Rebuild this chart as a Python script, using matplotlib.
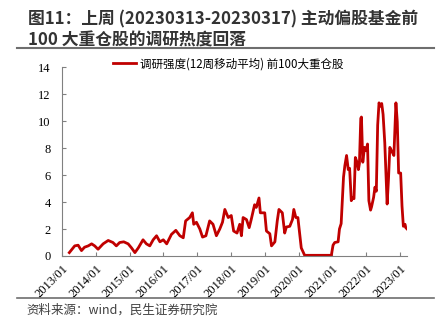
import matplotlib
matplotlib.use("Agg")
import matplotlib.pyplot as plt
from matplotlib.lines import Line2D

plt.rcParams['font.family'] = ['Noto Sans CJK SC', 'DejaVu Sans']

# weekly survey intensity (12-week moving average)
years = [2013.22, 2013.30, 2013.38, 2013.48, 2013.58, 2013.67, 2013.78, 2013.88, 2013.97,
         2014.07, 2014.22, 2014.37, 2014.51, 2014.61, 2014.71, 2014.83, 2014.96,
         2015.06, 2015.16, 2015.26, 2015.40, 2015.50, 2015.60, 2015.70, 2015.80, 2015.90,
         2016.00, 2016.10, 2016.24, 2016.37, 2016.49, 2016.59, 2016.66, 2016.78, 2016.86,
         2016.90, 2016.98, 2017.08, 2017.16, 2017.26, 2017.37, 2017.47, 2017.57, 2017.67,
         2017.75, 2017.82, 2017.92, 2018.01, 2018.08, 2018.18, 2018.26, 2018.31, 2018.36,
         2018.46, 2018.54, 2018.60, 2018.70, 2018.75, 2018.83, 2018.87, 2019.00, 2019.05,
         2019.15, 2019.20, 2019.30, 2019.37, 2019.42, 2019.52, 2019.59, 2019.64, 2019.74,
         2019.82, 2019.86, 2019.92, 2019.98, 2020.08, 2020.18, 2020.97, 2021.02, 2021.07,
         2021.17, 2021.21, 2021.26, 2021.33, 2021.37, 2021.42, 2021.47, 2021.51, 2021.56,
         2021.61, 2021.64, 2021.68, 2021.73, 2021.77, 2021.80, 2021.84, 2021.86, 2021.90,
         2021.95, 2022.00, 2022.04, 2022.08, 2022.13, 2022.16, 2022.22, 2022.26, 2022.30,
         2022.34, 2022.38, 2022.42, 2022.46, 2022.50, 2022.55, 2022.62, 2022.66, 2022.70,
         2022.77, 2022.82, 2022.88, 2022.92, 2022.96, 2023.02, 2023.06, 2023.10, 2023.15,
         2023.17, 2023.21]
values = [0.25, 0.5, 0.75, 0.8, 0.4, 0.65, 0.75, 0.9, 0.75,
          0.5, 0.9, 1.15, 1.0, 0.75, 1.0, 1.05, 0.9,
          0.6, 0.25, 0.6, 1.2, 0.9, 0.75, 1.2, 1.5, 1.05,
          1.2, 0.9, 1.6, 1.9, 1.5, 1.35, 2.6, 2.85, 3.2,
          2.35, 2.5, 2.0, 1.4, 1.5, 2.6, 2.35, 1.5, 2.0,
          2.5, 3.45, 2.85, 3.0, 1.85, 1.7, 2.35, 1.5, 2.85,
          2.7, 2.1, 2.7, 3.8, 3.6, 4.3, 3.2, 3.2, 1.85,
          1.65, 0.75, 1.05, 2.6, 3.45, 3.2, 1.7, 2.15, 2.2,
          2.7, 3.45, 2.85, 2.85, 0.6, 0.05, 0.05, 0.8, 1.0,
          1.05, 2.0, 2.4, 5.85, 6.7, 7.45, 6.4, 6.5, 4.1,
          4.35, 4.25, 7.3, 6.95, 6.4, 6.85, 10.2, 10.3, 6.95,
          8.05, 7.8, 8.3, 4.1, 3.4, 3.65, 4.35, 5.1, 4.8,
          9.7, 11.35, 11.1, 11.3, 10.5, 8.4, 3.85, 5.7, 8.05,
          7.7, 7.45, 11.35, 9.95, 6.15, 6.15, 3.7, 2.2, 2.35,
          2.1, 2.0]

tick_years = list(range(2013, 2024))
tick_labels = [f"{y}/01" for y in tick_years]
y_ticks = [0, 2, 4, 6, 8, 10, 12, 14]

title = "图11：上周 (20230313-20230317) 主动偏股基金前\n100 大重仓股的调研热度回落"
legend_label = "调研强度(12周移动平均) 前100大重仓股"
source = "资料来源：wind，民生证券研究院"

red = "#C00000"
axis_gray = "#808080"

fig = plt.figure(figsize=(4.42, 3.18), dpi=100)
ax = fig.add_axes([0.140, 0.195, 0.781, 0.594])

ax.plot(years, values, color=red, lw=2.0)

ax.set_xlim(2013.0, 2023.21)
ax.set_ylim(0, 14)
ax.set_xticks(tick_years)
ax.set_xticklabels(tick_labels, rotation=45, ha='right', rotation_mode='anchor',
                   family='Liberation Serif', fontsize=9)
ax.set_yticks(y_ticks)
ax.set_yticklabels([str(v) for v in y_ticks], family='Liberation Serif', fontsize=9)
ax.tick_params(axis='both', direction='in', length=3, color=axis_gray, width=0.8)
ax.tick_params(axis='x', pad=5)
ax.tick_params(axis='y', pad=8)

for side in ['top', 'right']:
    ax.spines[side].set_visible(False)
for side in ['left', 'bottom']:
    ax.spines[side].set_color(axis_gray)
    ax.spines[side].set_linewidth(0.8)

handle = Line2D([], [], color=red, lw=2.0)
fig.legend([handle], [legend_label], loc='center left', bbox_to_anchor=(0.255, 0.800),
           frameon=False, fontsize=8.3, handlelength=2.0, handletextpad=0.4,
           borderaxespad=0, borderpad=0)

fig.text(0.063, 0.968, title, fontsize=12.1, fontweight='bold', color='#333333',
         va='top', ha='left', linespacing=1.22)
fig.add_artist(Line2D([0.038, 0.982], [0.848, 0.848], color='#6e6e6e', lw=1.5))
fig.add_artist(Line2D([0.038, 0.982], [0.063, 0.063], color='#6e6e6e', lw=1.2))
fig.text(0.060, 0.025, source, fontsize=9, color='#404040', va='center', ha='left')

fig.savefig("out.png", dpi=100)
